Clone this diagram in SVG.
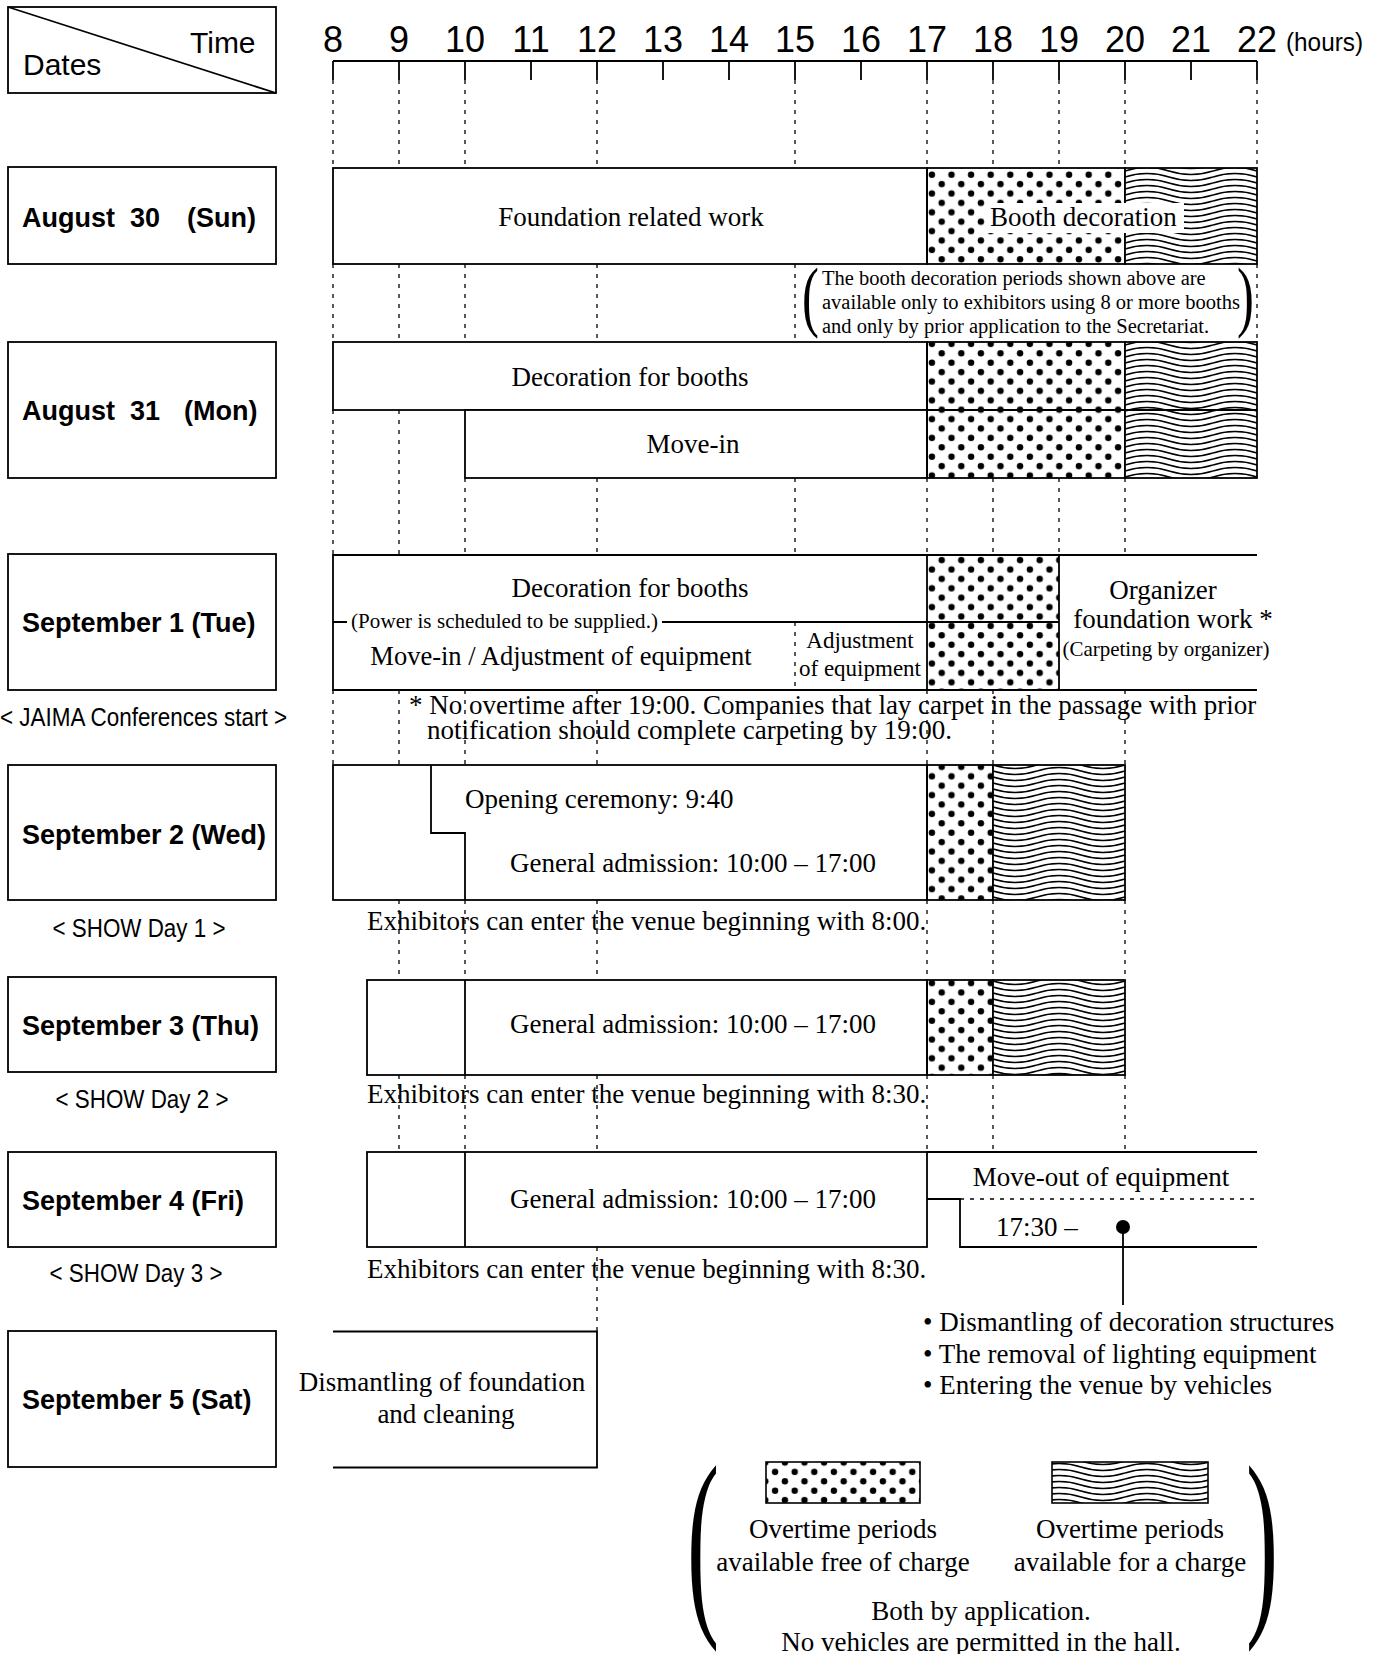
<svg xmlns="http://www.w3.org/2000/svg" width="1379" height="1654" viewBox="0 0 1379 1654">
<style>
.ln{stroke:#000;stroke-width:1.8;fill:none}
.bx{fill:#fff;stroke:#000;stroke-width:1.8}
.dsh{stroke:#000;stroke-width:1.3;stroke-dasharray:4 6;fill:none}
.se{font-family:"Liberation Serif","Times New Roman",serif;font-size:27px;fill:#000}
.sa{font-family:"Liberation Sans",Arial,sans-serif;fill:#000}
.bd{font-family:"Liberation Sans",Arial,sans-serif;font-weight:bold;font-size:27px;fill:#000}
.hr{font-family:"Liberation Sans",Arial,sans-serif;font-size:36px;fill:#000;text-anchor:middle}
.mid{text-anchor:middle}
.f20{font-size:20.5px}
.f21{font-size:21px}
.f23{font-size:23px}
.f25{font-size:25px}
.f26{font-size:26.5px}
.f30{font-size:30px}
.f78{font-size:78px}
.f205{font-size:205px}
</style>
<defs>
<pattern id="dots" patternUnits="userSpaceOnUse" width="19.6" height="18.8" x="927" y="170">
<circle cx="4.9" cy="4.7" r="3.2" fill="#000"/>
<circle cx="14.7" cy="14.1" r="3.2" fill="#000"/>
</pattern>
<pattern id="waves" patternUnits="userSpaceOnUse" width="88" height="6" x="1125" y="0">
<rect width="88" height="6" fill="#fff"/>
<path d="M0,-3 Q22,-10 44,-3 T88,-3 M0,3 Q22,-4 44,3 T88,3 M0,9 Q22,2 44,9 T88,9" stroke="#000" stroke-width="1.5" fill="none"/>
</pattern>
</defs>
<rect width="1379" height="1654" fill="#fff"/>

<g id="header">
<rect class="bx" x="8" y="7" width="268" height="86"/>
<line class="ln" x1="8" y1="7" x2="276" y2="93"/>
<text class="sa f30" x="190" y="53">Time</text>
<text class="sa f30" x="23" y="75">Dates</text>
</g>

<g id="axis">
<line class="ln" x1="333" y1="61" x2="1257" y2="61"/>
<path class="ln" d="M333,61V80M399,61V80M465,61V80M531,61V80M597,61V80M663,61V80M729,61V80M795,61V80M861,61V80M927,61V80M993,61V80M1059,61V80M1125,61V80M1191,61V80M1257,61V80"/>
<text class="hr" x="333" y="52">8</text>
<text class="hr" x="399" y="52">9</text>
<text class="hr" x="465" y="52">10</text>
<text class="hr" x="531" y="52">11</text>
<text class="hr" x="597" y="52">12</text>
<text class="hr" x="663" y="52">13</text>
<text class="hr" x="729" y="52">14</text>
<text class="hr" x="795" y="52">15</text>
<text class="hr" x="861" y="52">16</text>
<text class="hr" x="927" y="52">17</text>
<text class="hr" x="993" y="52">18</text>
<text class="hr" x="1059" y="52">19</text>
<text class="hr" x="1125" y="52">20</text>
<text class="hr" x="1191" y="52">21</text>
<text class="hr" x="1257" y="52">22</text>
<text class="sa f25" x="1286" y="51" textLength="77" lengthAdjust="spacingAndGlyphs">(hours)</text>
</g>

<g id="connectors">
<path class="dsh" d="M333,80V168M333,264V342M333,410V555M333,690V765"/>
<path class="dsh" d="M399,80V168M399,264V342M399,410V555M399,690V765M399,900V980M399,1075V1152"/>
<path class="dsh" d="M465,80V168M465,264V342M465,478V555M465,690V765M465,900V980M465,1075V1152"/>
<path class="dsh" d="M597,80V168M597,264V342M597,478V555M597,690V765M597,900V980M597,1075V1152M597,1247V1331"/>
<path class="dsh" d="M795,80V168M795,264V342M795,478V555M795,622V690"/>
<path class="dsh" d="M927,80V168M927,478V555M927,690V765M927,900V980M927,1075V1152"/>
<path class="dsh" d="M993,80V168M993,478V555M993,690V765M993,900V980M993,1075V1152"/>
<path class="dsh" d="M1059,80V168M1059,478V555"/>
<path class="dsh" d="M1125,80V168M1125,478V555M1125,690V765M1125,900V980M1125,1075V1152"/>
<path class="dsh" d="M1257,80V168M1257,264V342"/>
<path class="ln" d="M1123,1227V1305"/>
</g>

<g id="aug30">
<rect class="bx" x="8" y="167" width="268" height="97"/>
<text class="bd" y="227"><tspan x="22">August</tspan><tspan x="130">30</tspan><tspan x="187">(Sun)</tspan></text>
<rect class="bx" x="333" y="168" width="594" height="96"/>
<rect x="927" y="168" width="198" height="96" fill="url(#dots)" stroke="#000" stroke-width="1.8"/>
<rect x="1125" y="168" width="132" height="96" fill="url(#waves)" stroke="#000" stroke-width="1.8"/>
<text class="se mid" x="631" y="226">Foundation related work</text>
<rect x="985" y="203" width="199" height="30" fill="#fff"/>
<text class="se" x="990" y="226">Booth decoration</text>
</g>

<g id="note">
<text class="se f78" transform="translate(802,322) scale(0.65,1)">(</text>
<text class="se f20" x="822" y="285">The booth decoration periods shown above are</text>
<text class="se f20" x="822" y="309">available only to exhibitors using 8 or more booths</text>
<text class="se f20" x="822" y="333">and only by prior application to the Secretariat.</text>
<text class="se f78" transform="translate(1237,322) scale(0.65,1)">)</text>
</g>

<g id="aug31">
<rect class="bx" x="8" y="342" width="268" height="136"/>
<text class="bd" y="420"><tspan x="22">August</tspan><tspan x="130">31</tspan><tspan x="184">(Mon)</tspan></text>
<rect class="bx" x="333" y="342" width="594" height="68"/>
<rect class="bx" x="465" y="410" width="462" height="68"/>
<rect x="927" y="342" width="198" height="136" fill="url(#dots)" stroke="#000" stroke-width="1.8"/>
<rect x="1125" y="342" width="132" height="136" fill="url(#waves)" stroke="#000" stroke-width="1.8"/>
<line class="ln" x1="927" y1="410" x2="1257" y2="410"/>
<text class="se mid" x="630" y="386">Decoration for booths</text>
<text class="se mid" x="693" y="453">Move-in</text>
</g>

<g id="sep1">
<rect class="bx" x="8" y="554" width="268" height="136"/>
<text class="bd" x="22" y="632">September 1 (Tue)</text>
<rect x="333" y="555" width="924" height="135" fill="#fff"/>
<rect x="927" y="555" width="132" height="135" fill="url(#dots)" stroke="#000" stroke-width="1.8"/>
<path class="ln" d="M1257,555H333V690H1257M333,622H347M662,622H1059"/>
<path class="dsh" d="M795,622V690"/>
<text class="se mid" x="630" y="597">Decoration for booths</text>
<text class="se f21" x="351" y="628" textLength="307">(Power is scheduled to be supplied.)</text>
<text class="se f26 mid" x="561" y="665">Move-in / Adjustment of equipment</text>
<text class="se f23 mid" x="860" y="648">Adjustment</text>
<text class="se f23 mid" x="860" y="676">of equipment</text>
<text class="se mid" x="1163" y="599">Organizer</text>
<text class="se mid" x="1173" y="628">foundation work *</text>
<text class="se f21 mid" x="1166" y="656">(Carpeting by organizer)</text>
</g>

<g id="jaima">
<text class="sa f25 mid" x="143.5" y="726" textLength="287" lengthAdjust="spacingAndGlyphs">&lt; JAIMA Conferences start &gt;</text>
<text class="se" x="409" y="714">* No overtime after 19:00. Companies that lay carpet in the passage with prior</text>
<text class="se" x="427" y="739">notification should complete carpeting by 19:00.</text>
</g>

<g id="sep2">
<rect class="bx" x="8" y="765" width="268" height="135"/>
<text class="bd" x="22" y="844">September 2 (Wed)</text>
<rect class="bx" x="333" y="765" width="594" height="135"/>
<path class="ln" d="M431,765V833H465V900"/>
<rect x="927" y="765" width="66" height="135" fill="url(#dots)" stroke="#000" stroke-width="1.8"/>
<rect x="993" y="765" width="132" height="135" fill="url(#waves)" stroke="#000" stroke-width="1.8"/>
<text class="se" x="465" y="808">Opening ceremony: 9:40</text>
<text class="se mid" x="693" y="872">General admission: 10:00 – 17:00</text>
<text class="se" x="367" y="930">Exhibitors can enter the venue beginning with 8:00.</text>
<text class="sa f25 mid" x="139" y="937" textLength="173" lengthAdjust="spacingAndGlyphs">&lt; SHOW Day 1 &gt;</text>
</g>

<g id="sep3">
<rect class="bx" x="8" y="977" width="268" height="95"/>
<text class="bd" x="22" y="1035">September 3 (Thu)</text>
<rect class="bx" x="367" y="980" width="560" height="95"/>
<line class="ln" x1="465" y1="980" x2="465" y2="1075"/>
<rect x="927" y="980" width="66" height="95" fill="url(#dots)" stroke="#000" stroke-width="1.8"/>
<rect x="993" y="980" width="132" height="95" fill="url(#waves)" stroke="#000" stroke-width="1.8"/>
<text class="se mid" x="693" y="1033">General admission: 10:00 – 17:00</text>
<text class="se" x="367" y="1103">Exhibitors can enter the venue beginning with 8:30.</text>
<text class="sa f25 mid" x="142" y="1108" textLength="173" lengthAdjust="spacingAndGlyphs">&lt; SHOW Day 2 &gt;</text>
</g>

<g id="sep4">
<rect class="bx" x="8" y="1152" width="268" height="95"/>
<text class="bd" x="22" y="1210">September 4 (Fri)</text>
<rect class="bx" x="367" y="1152" width="560" height="95"/>
<line class="ln" x1="465" y1="1152" x2="465" y2="1247"/>
<path class="ln" d="M927,1152H1257M927,1199H960V1247H1257"/>
<path class="dsh" d="M960,1199H1257" stroke-dasharray="5 5"/>
<circle cx="1123" cy="1227" r="7" fill="#000"/>
<text class="se mid" x="693" y="1208">General admission: 10:00 – 17:00</text>
<text class="se mid" x="1101" y="1186">Move-out of equipment</text>
<text class="se" x="996" y="1236">17:30 –</text>
<text class="se" x="367" y="1278">Exhibitors can enter the venue beginning with 8:30.</text>
<text class="sa f25 mid" x="136" y="1282" textLength="173" lengthAdjust="spacingAndGlyphs">&lt; SHOW Day 3 &gt;</text>
<text class="se" x="923" y="1331">• Dismantling of decoration structures</text>
<text class="se" x="923" y="1363">• The removal of lighting equipment</text>
<text class="se" x="923" y="1394">• Entering the venue by vehicles</text>
</g>

<g id="sep5">
<rect class="bx" x="8" y="1331" width="268" height="136"/>
<text class="bd" x="22" y="1409">September 5 (Sat)</text>
<path class="ln" d="M333,1331.5H597V1467.5H333"/>
<text class="se mid" x="442" y="1391">Dismantling of foundation</text>
<text class="se mid" x="446" y="1423">and cleaning</text>
</g>

<g id="legend">
<text class="se f205" transform="translate(687,1608) scale(0.47,1)">(</text>
<rect x="766" y="1462" width="154" height="41" fill="url(#dots)" stroke="#000" stroke-width="1.6"/>
<rect x="1052" y="1462" width="156" height="41" fill="url(#waves)" stroke="#000" stroke-width="1.6"/>
<text class="se mid" x="843" y="1538">Overtime periods</text>
<text class="se mid" x="843" y="1571">available free of charge</text>
<text class="se mid" x="1130" y="1538">Overtime periods</text>
<text class="se mid" x="1130" y="1571">available for a charge</text>
<text class="se mid" x="981" y="1620">Both by application.</text>
<text class="se mid" x="981" y="1651">No vehicles are permitted in the hall.</text>
<text class="se f205" transform="translate(1246,1608) scale(0.47,1)">)</text>
</g>
</svg>
